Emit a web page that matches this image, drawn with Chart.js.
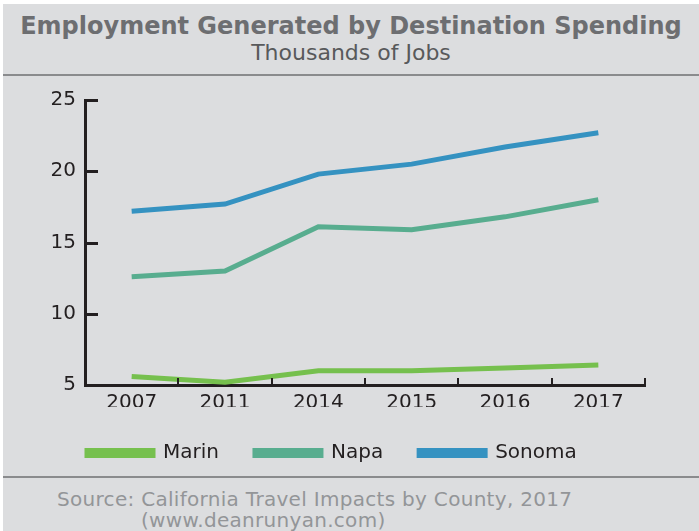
<!DOCTYPE html>
<html>
<head>
<meta charset="utf-8">
<script src="https://cdn.jsdelivr.net/npm/chart.js@4.4.1/dist/chart.umd.min.js"></script>
<style>
  html, body { margin: 0; padding: 0; background: #fff; }
  #panel {
    position: absolute; left: 3px; top: 4px; width: 696px; height: 527px;
    background: #dcdddf; font-family: "DejaVu Sans", sans-serif; overflow: hidden;
  }
  #head {
    position: absolute; left: 0; top: 0; width: 696px; height: 70px;
    border-bottom: 2px solid #8a8b8d; text-align: center;
  }
  #title { position: absolute; left: 0; right: 0; top: 8px; font-size: 24px; font-weight: bold; color: #6d6e71; white-space: nowrap; }
  #subtitle { position: absolute; left: 0; right: 0; top: 36px; font-size: 22px; color: #58595b; }
  #plot { position: absolute; left: 0; top: 72px; width: 696px; height: 397px; }
  #foot {
    position: absolute; left: 0; top: 472px; width: 696px; height: 55px;
    border-top: 2px solid #8a8b8d; color: #939598; font-size: 20px; line-height: 22px; letter-spacing: 0.3px;
  }
  #src1 { position: absolute; left: 54px; top: 10px; white-space: nowrap; }
  #src2 { position: absolute; left: 138px; top: 31px; white-space: nowrap; }
</style>
</head>
<body>
<div id="panel">
  <div id="head">
    <div id="title">Employment Generated by Destination Spending</div>
    <div id="subtitle">Thousands of Jobs</div>
  </div>
  <div id="plot"><canvas id="chart" width="696" height="397"></canvas></div>
  <div id="foot">
    <div id="src1">Source: California Travel Impacts by County, 2017</div>
    <div id="src2">(www.deanrunyan.com)</div>
  </div>
</div>
<script>
var years = ['2007', '2011', '2014', '2015', '2016', '2017'];
var marin = [5.6, 5.2, 6.0, 6.0, 6.2, 6.4];
var napa = [12.6, 13.0, 16.1, 15.9, 16.8, 18.0];
var sonoma = [17.2, 17.7, 19.8, 20.5, 21.7, 22.7];

var axisColor = '#231f20';
var fontFamily = '"DejaVu Sans", sans-serif';

// tick marks drawn on the inside of both axes
var innerTicks = {
    id: 'innerTicks',
    afterDraw: function (chart) {
        var ctx = chart.ctx;
        var x = chart.scales.x;
        var y = chart.scales.y;
        var left = chart.chartArea.left;
        var bottom = chart.chartArea.bottom;
        ctx.save();
        ctx.strokeStyle = axisColor;
        ctx.lineWidth = 3;
        ctx.beginPath();
        y.ticks.forEach(function (t) {
            var py = Math.round(y.getPixelForValue(t.value)) + 0.5;
            if (t.value === y.min) return;
            ctx.moveTo(left, py);
            ctx.lineTo(left + 13, py);
        });
        ctx.stroke();
        ctx.lineWidth = 2;
        ctx.beginPath();
        for (var i = 1; i <= years.length; i++) {
            var px = Math.round(x.getPixelForValue(i - 0.5));
            ctx.moveTo(px, bottom);
            ctx.lineTo(px, bottom - 7);
        }
        ctx.stroke();
        ctx.restore();
    }
};

var chart = new Chart(document.getElementById('chart').getContext('2d'), {
    type: 'line',
    data: {
        labels: years,
        datasets: [{
            label: 'Marin',
            data: marin,
            borderColor: '#76c04e',
            backgroundColor: '#76c04e'
        }, {
            label: 'Napa',
            data: napa,
            borderColor: '#58ad8f',
            backgroundColor: '#58ad8f'
        }, {
            label: 'Sonoma',
            data: sonoma,
            borderColor: '#3592c1',
            backgroundColor: '#3592c1'
        }]
    },
    options: {
        responsive: false,
        animation: false,
        layout: { padding: { top: 24, right: 54, left: 48, bottom: 0 } },
        elements: {
            line: { borderWidth: 5, tension: 0, borderCapStyle: 'butt' },
            point: { radius: 0 }
        },
        plugins: {
            title: { display: false },
            tooltip: { enabled: false },
            legend: {
                position: 'bottom',
                align: 'start',
                labels: {
                    boxWidth: 66,
                    boxHeight: 5,
                    padding: 36,
                    color: axisColor,
                    font: { family: fontFamily, size: 20 }
                }
            }
        },
        scales: {
            x: {
                offset: true,
                grid: { display: true, drawOnChartArea: false, drawTicks: false, offset: true, color: 'transparent' },
                border: { display: true, color: axisColor, width: 3 },
                ticks: { color: axisColor, padding: 6, font: { family: fontFamily, size: 20 } },
                afterFit: function (s) { s.height = 22; }
            },
            y: {
                min: 5,
                max: 25,
                grid: { display: true, drawOnChartArea: false, drawTicks: false, color: 'transparent' },
                border: { display: true, color: axisColor, width: 3 },
                ticks: { stepSize: 5, color: axisColor, padding: 9, font: { family: fontFamily, size: 20 } },
                afterFit: function (s) { s.width = 34; }
            }
        }
    },
    plugins: [innerTicks]
});
</script>
</body>
</html>
